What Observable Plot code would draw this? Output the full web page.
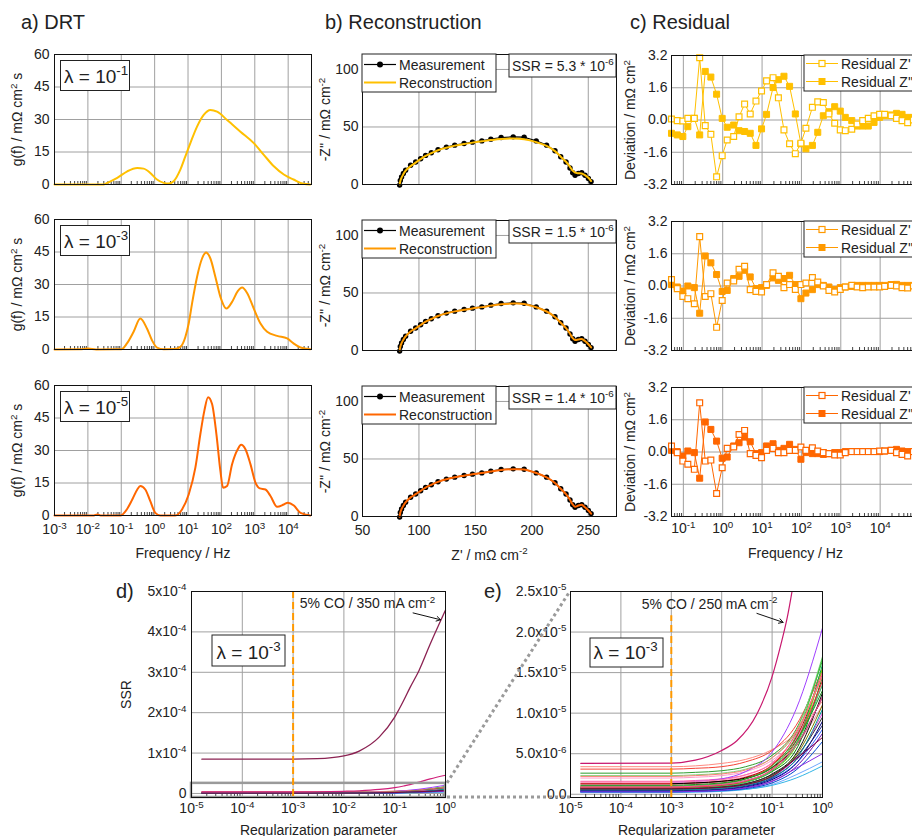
<!DOCTYPE html>
<html><head><meta charset="utf-8">
<script src="https://cdn.jsdelivr.net/npm/d3@7"></script>
<script src="https://cdn.jsdelivr.net/npm/@observablehq/plot@0.6"></script>
<style>
html,body{margin:0;padding:0;background:#fff;}
#fig{position:relative;width:912px;height:836px;overflow:hidden;background:#fff;font-family:"Liberation Sans",Arial,Helvetica,sans-serif;}
</style></head>
<body><div id="fig"></div>
<script>
// ---------------- DATA ----------------
const rowColors = ["#FFC000", "#FF9900", "#FF6600"];
const lambdaLabels = ["λ = 10^-1", "λ = 10^-3", "λ = 10^-5"];
const ssrLabels = ["SSR = 5.3 * 10^-6", "SSR = 1.5 * 10^-6", "SSR = 1.4 * 10^-6"];

// a) DRT (log10 frequency, g(f))
const drtLogF1 = [-3, -1.52, -1.42, -1.12, -0.82, -0.52, -0.33, -0.13, 0.07, 0.27, 0.42, 0.57, 0.77, 0.92, 1.07, 1.27, 1.47, 1.67, 1.87, 2.17, 2.57, 2.97, 3.27, 3.57, 3.87, 4.16, 4.46, 4.66];
const drtG1    = [0, 0, 0.76, 3.05, 6.1, 7.63, 7.33, 5.34, 2.29, 0.76, 0.46, 1.53, 6.87, 12.98, 19.1, 26.7, 32.1, 34.4, 33.6, 29.8, 24.4, 19.1, 13.7, 8.4, 4.6, 2.3, 0.3, 0];
const drtLogF2 = [-3, -2.25, -2.0, -1.75, -1.0, -0.83, -0.63, -0.43, -0.23, -0.08, 0.07, 0.27, 0.6, 0.77, 0.92, 1.02, 1.12, 1.27, 1.42, 1.54, 1.67, 1.82, 1.97, 2.15, 2.32, 2.49, 2.62, 2.77, 2.97, 3.17, 3.37, 3.67, 3.97, 4.16, 4.37, 4.66];
const drtG2    = [0, 0.1, 0.45, 0.05, 0.1, 2.8, 8.2, 14.3, 9.7, 4.3, 0.9, 0.15, 0.2, 1.2, 5.8, 12, 21.2, 33.5, 42, 44.8, 42, 33.5, 24.3, 18.9, 22, 26.9, 28.6, 26.1, 18.9, 12, 8.2, 6.3, 5.1, 2.8, 0.9, 0.15];
const drtLogF3 = [-3, -1.82, -1.72, -1.62, -1.02, -0.87, -0.67, -0.52, -0.43, -0.28, -0.13, 0.02, 0.17, 0.62, 0.82, 1.02, 1.22, 1.37, 1.49, 1.60, 1.72, 1.85, 1.97, 2.05, 2.17, 2.32, 2.49, 2.59, 2.72, 2.87, 3.02, 3.15, 3.32, 3.47, 3.67, 3.87, 3.99, 4.17, 4.37, 4.66];
const drtG3    = [0, 0, 0.5, 0, 0, 2, 7.4, 12, 13.6, 12, 6.6, 1.2, 0, 0, 2.8, 9.7, 22.1, 37.6, 48.4, 54.6, 51.5, 37.6, 20.6, 12.8, 13.6, 23.7, 30.6, 32.6, 30.6, 23.7, 15.2, 12.5, 12, 9, 4, 5.1, 5.9, 4.6, 1.2, 0];

// b) Nyquist (Z', -Z'')
const measZre = [82.9, 83.5, 84.6, 86.2, 88.2, 92.6, 97.1, 101.5, 105.9, 111.0, 116.9, 124.3, 131.7, 140.0, 147.4, 155.7, 163.7, 172.8, 183.5, 193.2, 203.9, 213.1, 220.5, 225.6, 230.3, 233.8, 236.2, 238.3, 241.2, 244.2, 247.1, 250.1, 252.5];
const measZim = [-0.5, 3.5, 6.6, 9.5, 12.4, 16.7, 19.5, 22.4, 25.3, 27.6, 30.2, 32.5, 34.2, 35.6, 36.8, 37.9, 39.4, 40.8, 41.4, 41.1, 37.9, 34.2, 29.3, 24.1, 19.5, 14.4, 10.3, 8.0, 9.5, 10.3, 8.0, 5.2, 2.5];
const reconZim1 = [0, 3.0, 6.0, 9.0, 12.0, 16.0, 19.0, 22.0, 24.8, 27.2, 29.8, 32.0, 33.8, 35.2, 36.4, 37.5, 38.6, 39.6, 40.0, 39.3, 36.8, 33.5, 29.0, 24.2, 19.8, 15.4, 12.0, 10.3, 9.8, 9.6, 8.2, 5.8, 3.0];
const reconZim2 = [0, 3.3, 6.4, 9.3, 12.2, 16.5, 19.3, 22.2, 25.1, 27.4, 30.0, 32.3, 34.0, 35.4, 36.6, 37.7, 39.0, 40.2, 40.8, 40.5, 37.6, 33.9, 29.2, 24.1, 19.5, 14.6, 10.8, 9.2, 9.6, 10.0, 8.2, 5.4, 2.7];
const reconZim3 = [-0.3, 3.4, 6.5, 9.4, 12.3, 16.6, 19.4, 22.3, 25.2, 27.5, 30.1, 32.4, 34.1, 35.5, 36.7, 37.8, 39.2, 40.5, 41.1, 40.8, 37.8, 34.0, 29.2, 24.1, 19.5, 14.5, 10.5, 8.4, 9.5, 10.2, 8.0, 5.2, 2.5];

// c) Residuals
const resFreq = [0.05, 0.07, 0.097, 0.13, 0.19, 0.26, 0.36, 0.5, 0.7, 0.97, 1.3, 1.9, 2.6, 3.6, 5, 7, 9.7, 13, 19, 26, 36, 50, 70, 97, 130, 190, 260, 360, 500, 700, 970, 1300, 1900, 2600, 3600, 5000, 7000, 9700, 13000, 19000, 26000, 36000, 50000, 70000];
const resRe1 = [0.05, -0.03, -0.05, 0.08, 0.08, 3.09, -0.28, -0.71, -2.82, -1.77, -0.99, -0.82, 0.16, 0.79, 0.30, 0.94, 1.44, 1.94, 2.10, 1.10, -0.49, -1.18, -1.67, -1.15, -0.41, 0.63, 0.90, 0.87, 0.30, -0.16, -0.49, -0.53, -0.46, -0.20, -0.03, 0.08, 0.21, 0.28, 0.28, 0.21, 0.08, -0.03, -0.13, 0.0];
const resIm1 = [-0.66, -0.74, -0.82, -0.33, 0.08, -0.74, 2.41, 2.13, 1.28, 0.08, -0.36, -0.25, -0.53, -0.57, -0.66, -1.26, -0.44, 0.28, 1.61, 2.0, 2.17, 1.67, 0.30, -1.18, -1.43, -1.26, -0.61, 0.21, 0.41, 0.66, 0.44, 0.13, -0.03, -0.30, -0.30, -0.30, -0.12, 0.13, 0.21, 0.25, 0.33, 0.28, 0.13, 0.13];
const resRe2 = [0.32, -0.13, -0.52, -0.63, -0.88, 2.45, -0.52, -0.38, -2.05, -0.72, 0.15, 0.25, 0.83, 0.98, -0.18, -0.27, -0.30, 0.07, 0.65, 0.48, -0.08, 0.07, -0.17, 0.07, 0.15, 0.42, 0.2, 0, -0.22, -0.3, -0.17, -0.05, 0.03, -0.05, -0.08, -0.05, -0.05, -0.05, -0.02, 0.03, 0, -0.08, -0.1, 0];
const resIm2 = [0.07, -0.05, -0.25, 0, -0.08, -1.35, 1.49, 1.15, 0.57, -0.27, -0.22, 0.37, 0.48, 0.78, 0.45, -0.13, -0.08, 0.03, 0.4, 0.28, 0.37, 0.53, 0.07, -0.63, -0.35, -0.18, 0.07, 0.03, -0.05, -0.17, -0.08, -0.05, -0.02, 0.03, 0.03, 0.03, 0.03, 0.03, 0.03, 0.07, 0.08, 0.03, 0.03, 0.03];
const resRe3 = [0.30, -0.03, -0.45, -0.61, -0.86, 2.44, -0.45, -0.40, -2.06, -0.78, 0.18, 0.25, 0.87, 1.07, -0.08, -0.17, -0.28, 0.08, 0.18, -0.03, -0.03, 0.08, 0.08, 0.25, 0.08, 0.21, 0.05, -0.03, -0.08, -0.15, -0.15, -0.03, 0.02, 0.02, 0.02, 0.02, 0.02, 0.05, 0.05, 0.08, -0.03, -0.12, -0.2, 0.02];
const resIm3 = [0.08, 0.02, -0.2, 0.05, -0.03, -1.30, 1.49, 1.12, 0.54, -0.31, -0.25, 0.30, 0.46, 0.74, 0.51, -0.08, -0.03, 0.30, 0.41, 0.08, 0.18, 0.38, 0.13, -0.36, -0.03, -0.08, -0.08, -0.12, -0.08, -0.03, -0.03, 0.02, 0.02, 0.02, 0.02, 0.02, 0.02, 0.02, 0.05, 0.08, 0.13, 0.05, 0.02, 0.02];

// d/e) SSR vs regularization parameter (values in units of 1e-6)
const lamGrid = [1.6e-5, 1e-3, 3e-3, 1e-2, 3e-2, 0.1, 0.3, 1];
const lamHighlight = [1.6e-5, 1e-3, 3e-3, 1e-2, 2e-2, 5e-2, 0.1, 0.15, 0.2, 0.3, 0.5, 1];
const ssr350 = [85, 85, 86, 93, 105, 140, 189, 230, 262, 304, 370, 454];
const ssr250 = [3.8, 3.85, 4.2, 5.4, 6.6, 9.9, 14.5, 18.5, 21.8, 28, 36, 45];
const ssrColors = ["#FF8A80", "#F44336", "#2E9E2E", "#7FD67F", "#FF99CC", "#FF5CA8", "#FFB3D9", "#F48FB1", "#A040FF", "#C00000", "#000000", "#00B050", "#007A00", "#111111", "#66DD00", "#3060FF", "#000080", "#6A0DAD", "#6FA8FF", "#33B5E5", "#E040E0", "#FF2020", "#40C040", "#808000", "#FF77AA", "#FA8072", "#33CC66", "#333333", "#0044CC", "#8A2BE2", "#E53935", "#1B8F1B", "#FF4FA0", "#1A237E", "#009999", "#800040"];
const ssrValues = [
  [3.4,3.4,3.5,3.8,4.3,5.5,7.5,11.5],
  [3.1,3.1,3.2,3.4,4.0,5.4,8.5,15.5],
  [2.6,2.6,2.7,2.9,3.4,4.8,8.0,16.5],
  [2.3,2.3,2.4,2.6,3.1,4.5,7.8,17.0],
  [2.0,2.0,2.1,2.3,2.8,4.2,7.0,14.0],
  [1.6,1.6,1.7,1.9,2.4,3.8,6.8,13.5],
  [1.4,1.4,1.5,1.7,2.2,3.4,6.2,12.0],
  [1.2,1.2,1.3,1.5,2.0,3.2,6.0,11.0],
  [null,1.5,1.6,1.9,2.8,5.2,10.5,20.5],
  [1.3,1.3,1.4,1.6,2.1,3.6,7.0,15.0],
  [null,1.3,1.4,1.6,2.0,3.3,6.0,12.0],
  [0.9,0.9,1.0,1.2,1.7,3.0,6.2,16.0],
  [0.8,0.8,0.9,1.1,1.5,2.8,5.5,14.5],
  [0.6,0.6,0.7,0.9,1.3,2.5,5.0,12.5],
  [0.7,0.7,0.8,1.0,1.5,2.9,6.0,15.5],
  [0.5,0.5,0.55,0.7,1.0,1.9,3.8,8.0],
  [0.4,0.4,0.5,0.6,0.9,1.8,3.8,9.0],
  [0.35,0.35,0.4,0.5,0.8,1.6,3.4,7.5],
  [0.2,0.2,0.25,0.35,0.6,1.2,2.4,4.0],
  [0.25,0.25,0.3,0.4,0.6,1.1,2.0,3.5],
  [0.5,0.5,0.55,0.7,1.1,2.2,4.5,10.0],
  [0.9,0.9,1.0,1.3,1.9,3.6,7.5,15.0],
  [1.0,1.0,1.1,1.3,1.9,3.5,7.2,16.8],
  [0.6,0.6,0.65,0.8,1.2,2.3,4.8,11.0],
  [1.5,1.5,1.6,1.8,2.4,3.9,7.4,15.0],
  [2.2,2.2,2.3,2.5,3.0,4.5,7.8,14.5],
  [0.75,0.75,0.85,1.0,1.5,2.9,6.2,13.5],
  [0.7,0.7,0.75,0.9,1.3,2.4,4.6,9.5],
  [0.3,0.3,0.35,0.45,0.7,1.4,3.0,6.5],
  [0.3,0.3,0.35,0.5,0.8,1.6,3.2,5.0],
  [0.8,0.8,0.9,1.1,1.6,3.1,6.5,14.0],
  [1.1,1.1,1.2,1.4,1.9,3.3,6.6,12.8],
  [0.9,0.9,1.0,1.2,1.7,3.0,6.0,12.0],
  [0.45,0.45,0.5,0.65,1.0,2.0,4.2,8.5],
  [0.55,0.55,0.6,0.75,1.1,2.1,4.3,10.5],
  [0.65,0.65,0.7,0.85,1.2,2.2,4.4,7.0]
];

// tick values
const aXTicks = [1e-3, 1e-2, 1e-1, 1, 10, 100, 1e3, 1e4];
const aYTicks = [0, 15, 30, 45, 60];
const bXTicks = [50, 100, 150, 200, 250];
const bYTicks = [0, 50, 100];
const cXTicks = [0.1, 1, 10, 100, 1e3, 1e4];
const cYTicks = [-3.2, -1.6, 0, 1.6, 3.2];
const lamTicks = [1e-5, 1e-4, 1e-3, 1e-2, 1e-1, 1];
const dYTicks = [0, 1e-4, 2e-4, 3e-4, 4e-4, 5e-4];
const eYTicks = [0, 5e-6, 1e-5, 1.5e-5, 2e-5, 2.5e-5];

// ---------------- HELPERS ----------------
const FONT = '"Liberation Sans", Arial, Helvetica, sans-serif';
const GRID = "#a0a0a0";
const INK = "#222";
const fig = document.getElementById("fig");
const baseStyle = {fontFamily: FONT, fontSize: "14px", color: INK, background: "transparent", overflow: "visible"};
const pow10 = d => "10^" + Math.round(Math.log10(d));
const blank = () => "";
function logMinor(lo, hi) {
  const out = [];
  for (let e = Math.floor(Math.log10(lo)); e <= Math.ceil(Math.log10(hi)); e++)
    for (let m = 2; m < 10; m++) { const v = m * Math.pow(10, e); if (v > lo && v < hi) out.push(v); }
  return out;
}
function place(el, left, top) {
  el.style.position = "absolute"; el.style.left = left + "px"; el.style.top = top + "px";
  fig.appendChild(el); return el;
}
const NS = "http://www.w3.org/2000/svg";
function fixNode(el) {
  const s = el.textContent;
  if (!s.includes("^")) return;
  const fs = parseFloat(getComputedStyle(el).fontSize) || 14;
  while (el.firstChild) el.removeChild(el.firstChild);
  const re = /\^(-?\d+)/g; let last = 0, m, shifted = false;
  const sh = +(fs * 0.4).toFixed(2);
  const addPlain = str => {
    const ts = document.createElementNS(NS, "tspan"); ts.textContent = str;
    if (shifted) { ts.setAttribute("dy", sh); shifted = false; }
    el.appendChild(ts);
  };
  while ((m = re.exec(s))) {
    const pre = s.slice(last, m.index);
    if (pre) addPlain(pre);
    const sp = document.createElementNS(NS, "tspan");
    sp.textContent = m[1];
    sp.setAttribute("font-size", (fs * 0.7).toFixed(1));
    sp.setAttribute("dy", -sh);
    el.appendChild(sp); shifted = true;
    last = re.lastIndex;
  }
  const rest = s.slice(last);
  if (rest) addPlain(rest);
}
function supify(root) {
  root.querySelectorAll("text").forEach(t => {
    const spans = t.querySelectorAll("tspan");
    if (spans.length) spans.forEach(fixNode); else fixNode(t);
  });
}
const axOpts = {tickSize: 0, tickPadding: 5, labelAnchor: "center", labelArrow: "none"};
const axXOpts = {...axOpts, tickPadding: 9};

// ---------------- a) DRT ----------------
const aTop = [54, 219, 385], aH = 130, aW = 257;
[[drtLogF1, drtG1], [drtLogF2, drtG2], [drtLogF3, drtG3]].forEach(([lf, g], r) => {
  const pts = lf.map((v, i) => ({f: Math.pow(10, v), g: g[i]}));
  const last = r === 2, mt = 10, mb = last ? 48 : 6;
  const p = Plot.plot({
    width: 54 + aW + 8, height: mt + aH + mb,
    marginLeft: 54, marginRight: 8, marginTop: mt, marginBottom: mb,
    x: {type: "log", domain: [1e-3, 5e4]}, y: {domain: [0, 60]},
    style: baseStyle,
    marks: [
      Plot.gridX(aXTicks, {stroke: GRID, strokeOpacity: 1}),
      Plot.gridY(aYTicks, {stroke: GRID, strokeOpacity: 1}),
      Plot.ruleX(logMinor(1e-3, 5e4), {x: d => d, insetTop: aH - 3, stroke: "#444"}),
      Plot.axisX(aXTicks, {...axXOpts, tickFormat: last ? pow10 : blank, label: last ? "Frequency / Hz" : null, labelOffset: 42}),
      Plot.axisY(aYTicks, {...axOpts, label: "g(f) / mΩ cm^2 s", labelOffset: 42}),
      Plot.line(pts, {x: "f", y: "g", stroke: rowColors[r], strokeWidth: 2, curve: "monotone-x"}),
      Plot.frame({stroke: "#111"})
    ]
  });
  place(p, 0, aTop[r] - mt);
});

// ---------------- b) Reconstruction ----------------
const bTop = [54, 220, 386], bH = 130, bW = 254;
const meas = measZre.map((x, i) => ({x, y: measZim[i]}));
[reconZim1, reconZim2, reconZim3].forEach((rz, r) => {
  const rec = measZre.map((x, i) => ({x, y: rz[i]}));
  const last = r === 2, mt = 10, mb = last ? 48 : 6;
  const p = Plot.plot({
    width: 62 + bW + 6, height: mt + bH + mb,
    marginLeft: 62, marginRight: 6, marginTop: mt, marginBottom: mb,
    x: {domain: [50, 275]}, y: {domain: [0, 113]},
    style: baseStyle,
    marks: [
      Plot.gridX(bXTicks, {stroke: GRID, strokeOpacity: 1}),
      Plot.gridY(bYTicks, {stroke: GRID, strokeOpacity: 1}),
      Plot.axisX(bXTicks, {...axXOpts, tickFormat: last ? d => String(d) : blank, label: last ? "Z' / mΩ cm^-2" : null, labelOffset: 43}),
      Plot.axisY(bYTicks, {...axOpts, tickPadding: 4, label: "-Z'' / mΩ cm^-2", labelOffset: 42}),
      Plot.line(meas, {x: "x", y: "y", stroke: "#000", strokeWidth: 1.2}),
      Plot.dot(meas, {x: "x", y: "y", r: 2.7, fill: "#000"}),
      Plot.line(rec, {x: "x", y: "y", stroke: rowColors[r], strokeWidth: 2, curve: "catmull-rom"}),
      Plot.frame({stroke: "#111"})
    ]
  });
  place(p, 300, bTop[r] - mt);
});

// ---------------- c) Residual ----------------
const cTop = [55, 221, 387], cH = 129, cW = 248;
[[resRe1, resIm1], [resRe2, resIm2], [resRe3, resIm3]].forEach(([re, im], r) => {
  const dRe = resFreq.map((f, i) => ({f, v: re[i]}));
  const dIm = resFreq.map((f, i) => ({f, v: im[i]}));
  const last = r === 2, mt = 10, mb = last ? 48 : 6, col = rowColors[r];
  const p = Plot.plot({
    width: 61 + cW + 4, height: mt + cH + mb,
    marginLeft: 61, marginRight: 4, marginTop: mt, marginBottom: mb,
    x: {type: "log", domain: [0.05, 1e5]}, y: {domain: [-3.2, 3.2]},
    style: baseStyle,
    marks: [
      Plot.gridX(cXTicks, {stroke: GRID, strokeOpacity: 1}),
      Plot.gridY(cYTicks, {stroke: GRID, strokeOpacity: 1}),
      Plot.ruleX(logMinor(0.05, 1e5), {x: d => d, insetTop: cH - 3, stroke: "#444"}),
      Plot.axisX(cXTicks, {...axXOpts, tickPadding: 7, tickFormat: last ? pow10 : blank, label: last ? "Frequency / Hz" : null, labelOffset: 41}),
      Plot.axisY(cYTicks, {...axOpts, tickPadding: 4, tickFormat: d => d.toFixed(1), label: "Deviation / mΩ cm^2", labelOffset: 46}),
      Plot.line(dRe, {x: "f", y: "v", stroke: col, strokeWidth: 1}),
      Plot.line(dIm, {x: "f", y: "v", stroke: col, strokeWidth: 1}),
      Plot.dot(dIm, {x: "f", y: "v", symbol: "square", r: 3.4, fill: col, stroke: col, strokeWidth: 1}),
      Plot.dot(dRe, {x: "f", y: "v", symbol: "square", r: 3.3, fill: "white", stroke: col, strokeWidth: 1.2}),
      Plot.frame({stroke: "#111"})
    ]
  });
  place(p, 610, cTop[r] - mt);
});

// ---------------- d) & e) SSR ----------------
const ssrRows = [];
ssrValues.forEach((vals, k) => vals.forEach((v, i) => { if (v != null) ssrRows.push({id: k, color: ssrColors[k], lam: lamGrid[i], ssr: v * 1e-6}); }));
const rows250 = ssr250.map((v, i) => ({lam: lamHighlight[i], ssr: v * 1e-6}));
const rows350 = ssr350.map((v, i) => ({lam: lamHighlight[i], ssr: v * 1e-6}));
const dYDomain = [-1e-5, 5e-4];
const eYDomain = [-0.4e-6, 2.5e-5];
const fmtD = d => d === 0 ? "0" : Math.round(d / 1e-4) + "x10^-4";
const fmtE = d => d === 0 ? "0.0" : (d < 9.99e-6 ? (d / 1e-6).toFixed(1) + "x10^-6" : (d / 1e-5).toFixed(1) + "x10^-5");
const ddTop = 580, dmt = 11, dH = 206, dmb = 45, dW = 254;
const dPlot = Plot.plot({
  width: 91 + dW + 6, height: dmt + dH + dmb,
  marginLeft: 91, marginRight: 6, marginTop: dmt, marginBottom: dmb,
  x: {type: "log", domain: [1e-5, 1]}, y: {domain: dYDomain}, color: {type: "identity"},
  style: baseStyle,
  marks: [
    Plot.gridX(lamTicks, {stroke: GRID, strokeOpacity: 1}),
    Plot.gridY(dYTicks, {stroke: GRID, strokeOpacity: 1}),
    Plot.ruleX(logMinor(1e-5, 1), {x: d => d, insetTop: dH - 3, stroke: "#444"}),
    Plot.axisX(lamTicks, {...axXOpts, tickPadding: 6, tickFormat: pow10, label: "Regularization parameter", labelOffset: 37}),
    Plot.axisY(dYTicks, {...axOpts, tickPadding: 5, tickFormat: fmtD, label: "SSR", labelOffset: 70}),
    Plot.line(ssrRows, {x: "lam", y: "ssr", z: "id", stroke: "color", strokeWidth: 1, curve: "monotone-x"}),
    Plot.line(rows250, {x: "lam", y: "ssr", stroke: "#D0207A", strokeWidth: 1.2, curve: "monotone-x"}),
    Plot.line(rows350, {x: "lam", y: "ssr", stroke: "#8B2252", strokeWidth: 1.3, curve: "monotone-x"}),
    Plot.rect([{x1: 1e-5, x2: 1, y1: dYDomain[0], y2: eYDomain[1]}], {x1: "x1", x2: "x2", y1: "y1", y2: "y2", fill: "none", stroke: "#9a9a9a", strokeWidth: 2.5}),
    Plot.ruleX([1e-3], {stroke: "#FF9900", strokeWidth: 2, strokeDasharray: "7,4"}),
    Plot.text([{x: 1.35e-3, y: 4.7e-4, t: "5% CO / 350 mA cm^-2"}], {x: "x", y: "y", text: "t", textAnchor: "start", fontSize: 14, fill: INK}),
    Plot.arrow([{x1: 0.23, y1: 4.47e-4, x2: 0.8, y2: 4.3e-4}], {x1: "x1", y1: "y1", x2: "x2", y2: "y2", stroke: "#111", strokeWidth: 1, headLength: 7}),
    Plot.frame({stroke: "#111"})
  ]
});
place(dPlot, 100, ddTop);

const eW = 252;
const ePlot = Plot.plot({
  width: 100 + eW + 10, height: dmt + dH + dmb,
  marginLeft: 100, marginRight: 10, marginTop: dmt, marginBottom: dmb,
  x: {type: "log", domain: [1e-5, 1]}, y: {domain: eYDomain}, color: {type: "identity"},
  style: baseStyle,
  marks: [
    Plot.gridX(lamTicks, {stroke: GRID, strokeOpacity: 1}),
    Plot.gridY(eYTicks, {stroke: GRID, strokeOpacity: 1}),
    Plot.ruleX(logMinor(1e-5, 1), {x: d => d, insetTop: dH - 3, stroke: "#444"}),
    Plot.axisX(lamTicks, {...axXOpts, tickPadding: 6, tickFormat: pow10, label: "Regularization parameter", labelOffset: 37}),
    Plot.axisY(eYTicks, {...axOpts, tickPadding: 4, tickFormat: fmtE, label: null}),
    Plot.line(ssrRows, {x: "lam", y: "ssr", z: "id", stroke: "color", strokeWidth: 1, curve: "monotone-x", clip: true}),
    Plot.line(rows250, {x: "lam", y: "ssr", stroke: "#C8186E", strokeWidth: 1.2, curve: "monotone-x", clip: true}),
    Plot.ruleX([1e-3], {y1: eYDomain[0], y2: 2.2e-5, stroke: "#FF9900", strokeWidth: 2, strokeDasharray: "7,4"}),
    Plot.text([{x: 2.6e-4, y: 2.34e-5, t: "5% CO / 250 mA cm^-2"}], {x: "x", y: "y", text: "t", textAnchor: "start", fontSize: 14, fill: INK}),
    Plot.arrow([{x1: 0.05, y1: 2.23e-5, x2: 0.165, y2: 2.12e-5}], {x1: "x1", y1: "y1", x2: "x2", y2: "y2", stroke: "#111", strokeWidth: 1, headLength: 7}),
    Plot.frame({stroke: "#111"})
  ]
});
place(ePlot, 470, ddTop);

// ---------------- overlay: titles, boxes, legends, connectors ----------------
const ov = d3.create("svg").attr("width", 912).attr("height", 836)
  .style("position", "absolute").style("left", "0px").style("top", "0px")
  .style("font-family", FONT).style("pointer-events", "none");
function otext(x, y, s, fs) {
  return ov.append("text").attr("x", x).attr("y", y).attr("font-size", fs).attr("fill", INK).text(s);
}
function obox(x, y, w, h) {
  return ov.append("rect").attr("x", x).attr("y", y).attr("width", w).attr("height", h)
    .attr("fill", "#fff").attr("stroke", "#222").attr("stroke-width", 1);
}
// connectors between d and e
const dx = dPlot.scale("x"), dy = dPlot.scale("y"), ex = ePlot.scale("x"), ey = ePlot.scale("y");
const A = [100 + dx.apply(1), ddTop + dy.apply(eYDomain[1])];
const B = [470 + ex.apply(1e-5), ddTop + ey.apply(eYDomain[1])];
const C = [100 + dx.apply(1), ddTop + dy.apply(dYDomain[0])];
const D = [470 + ex.apply(1e-5), ddTop + ey.apply(eYDomain[0])];
[[A, B], [C, D]].forEach(([p, q]) => ov.append("line").attr("x1", p[0] + 2).attr("y1", p[1]).attr("x2", q[0]).attr("y2", q[1])
  .attr("stroke", "#9a9a9a").attr("stroke-width", 3).attr("stroke-dasharray", "3,3"));

otext(21, 29, "a) DRT", 20);
otext(325, 29, "b) Reconstruction", 20);
otext(630, 29, "c) Residual", 20);
otext(116, 598, "d)", 20);
otext(484, 598, "e)", 20);

for (let r = 0; r < 3; r++) {
  // lambda boxes
  obox(60.5, aTop[r] + 6.5, 69, 30);
  otext(64, aTop[r] + 29, lambdaLabels[r], 19);
  // b legend
  const ft = bTop[r];
  obox(362, ft, 134, 38);
  ov.append("line").attr("x1", 364).attr("x2", 396).attr("y1", ft + 10.5).attr("y2", ft + 10.5).attr("stroke", "#000").attr("stroke-width", 1.2);
  ov.append("circle").attr("cx", 380).attr("cy", ft + 10.5).attr("r", 3).attr("fill", "#000");
  otext(399, ft + 15.5, "Measurement", 14);
  ov.append("line").attr("x1", 364).attr("x2", 396).attr("y1", ft + 28.5).attr("y2", ft + 28.5).attr("stroke", rowColors[r]).attr("stroke-width", 2);
  otext(399, ft + 33.5, "Reconstruction", 14);
  obox(509, ft, 107, 23);
  otext(512, ft + 17, ssrLabels[r], 14);
  // c legend
  const ct = cTop[r];
  obox(804, ct, 130, 36);
  ov.append("line").attr("x1", 806).attr("x2", 838).attr("y1", ct + 8.5).attr("y2", ct + 8.5).attr("stroke", rowColors[r]).attr("stroke-width", 1);
  ov.append("rect").attr("x", 819).attr("y", ct + 5.5).attr("width", 6).attr("height", 6).attr("fill", "#fff").attr("stroke", rowColors[r]).attr("stroke-width", 1.2);
  otext(841, ct + 14, "Residual Z'", 14);
  ov.append("line").attr("x1", 806).attr("x2", 838).attr("y1", ct + 26.5).attr("y2", ct + 26.5).attr("stroke", rowColors[r]).attr("stroke-width", 1);
  ov.append("rect").attr("x", 818.5).attr("y", ct + 23).attr("width", 7).attr("height", 7).attr("fill", rowColors[r]);
  otext(841, ct + 32, "Residual Z''", 14);
}
obox(212, 635, 73, 31);
otext(216.5, 659, "λ = 10^-3", 19);
obox(590, 638, 73, 29);
otext(593.5, 659, "λ = 10^-3", 19);

fig.appendChild(ov.node());
supify(fig);
</script>
</body></html>
